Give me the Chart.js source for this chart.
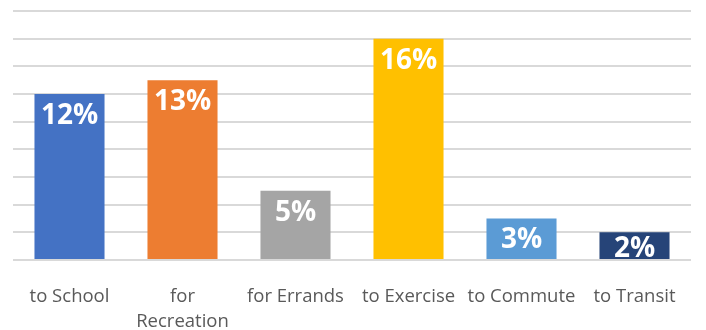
<!DOCTYPE html>
<html>
<head>
<meta charset="utf-8">
<script src="https://cdn.jsdelivr.net/npm/chart.js@4"></script>
<style>
  html, body { margin: 0; padding: 0; background: #fff; }
  #wrap { width: 706px; height: 330px; }
</style>
</head>
<body>
<div id="wrap"><canvas id="chart"></canvas></div>
<script>
// Chart data
const categories = ['to School', ['for', 'Recreation'], 'for Errands', 'to Exercise', 'to Commute', 'to Transit'];
const shares = [12, 13, 5, 16, 3, 2];
const barColors = ['#4472C4', '#ED7D31', '#A5A5A5', '#FFC000', '#5B9BD5', '#264478'];

// Draws the white "12%" style labels inside the top of each bar.
const barLabels = {
  id: 'barLabels',
  afterDatasetsDraw(chart) {
    const ctx = chart.ctx;
    const meta = chart.getDatasetMeta(0);
    ctx.save();
    ctx.fillStyle = '#ffffff';
    ctx.font = 'bold 28px "Open Sans"';
    ctx.textAlign = 'center';
    ctx.textBaseline = 'middle';
    meta.data.forEach((bar, i) => {
      // short bars: keep the label inside, above the baseline
      const y = Math.min(bar.y + 22, bar.base - 10);
      ctx.fillText(shares[i] + '%', bar.x, y);
    });
    ctx.restore();
  }
};

const ctx = document.getElementById('chart').getContext('2d');
new Chart(ctx, {
  type: 'bar',
  data: {
    labels: categories,
    datasets: [{
      data: shares,
      backgroundColor: barColors,
      borderWidth: 0,
      categoryPercentage: 1,
      barPercentage: 0.62
    }]
  },
  options: {
    responsive: true,
    maintainAspectRatio: false,
    animation: false,
    layout: { padding: { top: 11, left: 13, right: 15, bottom: 0 } },
    plugins: {
      legend: { display: false },
      tooltip: { enabled: false }
    },
    scales: {
      x: {
        grid: { display: false, drawTicks: false },
        border: { display: false },
        ticks: {
          color: '#595959',
          font: { family: 'Open Sans', size: 18.5, lineHeight: 1.35 },
          padding: 24,
          maxRotation: 0,
          autoSkip: false
        },
        afterFit(scale) { scale.height = 70; }
      },
      y: {
        min: 0,
        max: 18,
        ticks: { display: false, stepSize: 2 },
        grid: { color: '#D9D9D9', lineWidth: 2, drawTicks: false },
        border: { display: false },
        afterFit(scale) { scale.width = 0; }
      }
    }
  },
  plugins: [barLabels]
});
</script>
</body>
</html>
